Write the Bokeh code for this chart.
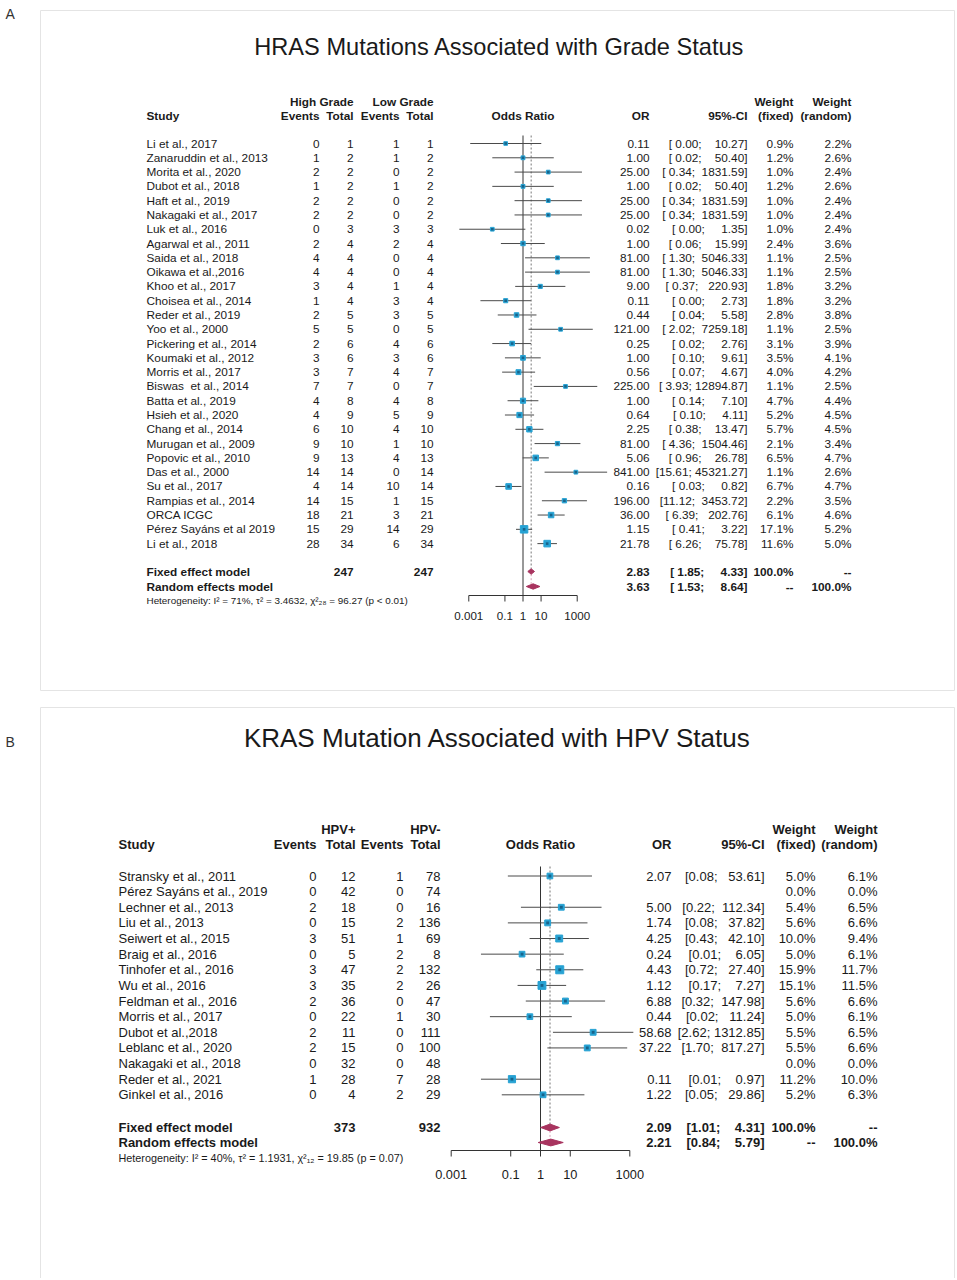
import math
from bokeh.plotting import figure
from bokeh.models import Range1d, LogScale
from bokeh.core.properties import value
from bokeh.embed import file_html
from bokeh.resources import INLINE

# ---------------- DATA: panel A (HRAS / grade) ----------------
a_title = "HRAS Mutations Associated with Grade Status"
a_group1 = "High Grade"
a_group2 = "Low Grade"
a_study = ["Li et al., 2017", "Zanaruddin et al., 2013", "Morita et al., 2020", "Dubot et al., 2018",
           "Haft et al., 2019", "Nakagaki et al., 2017", "Luk et al., 2016", "Agarwal et al., 2011",
           "Saida et al., 2018", "Oikawa et al.,2016", "Khoo et al., 2017", "Choisea et al., 2014",
           "Reder et al., 2019", "Yoo et al., 2000", "Pickering et al., 2014", "Koumaki et al., 2012",
           "Morris et al., 2017", "Biswas\u00a0 et al., 2014", "Batta et al., 2019", "Hsieh et al., 2020",
           "Chang et al., 2014", "Murugan et al., 2009", "Popovic et al., 2010", "Das et al., 2000",
           "Su et al., 2017", "Rampias et al., 2014", "ORCA ICGC", "P\u00e9rez Say\u00e1ns et al 2019",
           "Li et al., 2018"]
a_ev1 = [0, 1, 2, 1, 2, 2, 0, 2, 4, 4, 3, 1, 2, 5, 2, 3, 3, 7, 4, 4, 6, 9, 9, 14, 4, 14, 18, 15, 28]
a_n1 = [1, 2, 2, 2, 2, 2, 3, 4, 4, 4, 4, 4, 5, 5, 6, 6, 7, 7, 8, 9, 10, 10, 13, 14, 14, 15, 21, 29, 34]
a_ev2 = [1, 1, 0, 1, 0, 0, 3, 2, 0, 0, 1, 3, 3, 0, 4, 3, 4, 0, 4, 5, 4, 1, 4, 0, 10, 1, 3, 14, 6]
a_n2 = [1, 2, 2, 2, 2, 2, 3, 4, 4, 4, 4, 4, 5, 5, 6, 6, 7, 7, 8, 9, 10, 10, 13, 14, 14, 15, 21, 29, 34]
a_or = [0.11, 1.00, 25.00, 1.00, 25.00, 25.00, 0.02, 1.00, 81.00, 81.00, 9.00, 0.11, 0.44, 121.00,
        0.25, 1.00, 0.56, 225.00, 1.00, 0.64, 2.25, 81.00, 5.06, 841.00, 0.16, 196.00, 36.00, 1.15, 21.78]
a_lo = [0.0012, 0.02, 0.34, 0.02, 0.34, 0.34, 0.0003, 0.06, 1.30, 1.30, 0.37, 0.0044, 0.04, 2.02,
        0.02, 0.10, 0.07, 3.93, 0.14, 0.10, 0.38, 4.36, 0.96, 15.61, 0.03, 11.12, 6.39, 0.41, 6.26]
a_hi = [10.27, 50.40, 1831.59, 50.40, 1831.59, 1831.59, 1.35, 15.99, 5046.33, 5046.33, 220.93, 2.73,
        5.58, 7259.18, 2.76, 9.61, 4.67, 12894.87, 7.10, 4.11, 13.47, 1504.46, 26.78, 45321.27, 0.82,
        3453.72, 202.76, 3.22, 75.78]
a_wf = [0.9, 1.2, 1.0, 1.2, 1.0, 1.0, 1.0, 2.4, 1.1, 1.1, 1.8, 1.8, 2.8, 1.1, 3.1, 3.5, 4.0, 1.1, 4.7,
        5.2, 5.7, 2.1, 6.5, 1.1, 6.7, 2.2, 6.1, 17.1, 11.6]
a_wr = [2.2, 2.6, 2.4, 2.6, 2.4, 2.4, 2.4, 3.6, 2.5, 2.5, 3.2, 3.2, 3.8, 2.5, 3.9, 4.1, 4.2, 2.5, 4.4,
        4.5, 4.5, 3.4, 4.7, 2.6, 4.7, 3.5, 4.6, 5.2, 5.0]
a_tot1, a_tot2 = 247, 247
a_fixed = (2.83, 1.85, 4.33)
a_random = (3.63, 1.53, 8.64)
a_het = "Heterogeneity: I\u00b2 = 71%, \u03c4\u00b2 = 3.4632, \u03c7\u00b2\u2082\u2088 = 96.27 (p < 0.01)"

# ---------------- DATA: panel B (KRAS / HPV) ----------------
b_title = "KRAS Mutation Associated with HPV Status"
b_group1 = "HPV+"
b_group2 = "HPV-"
b_study = ["Stransky et al., 2011", "P\u00e9rez Say\u00e1ns et al., 2019", "Lechner et al., 2013",
           "Liu et al., 2013", "Seiwert et al., 2015", "Braig et al., 2016", "Tinhofer et al., 2016",
           "Wu et al., 2016", "Feldman et al., 2016", "Morris et al., 2017", "Dubot et al.,2018",
           "Leblanc et al., 2020", "Nakagaki et al., 2018", "Reder et al., 2021", "Ginkel et al., 2016"]
b_ev1 = [0, 0, 2, 0, 3, 0, 3, 3, 2, 0, 2, 2, 0, 1, 0]
b_n1 = [12, 42, 18, 15, 51, 5, 47, 35, 36, 22, 11, 15, 32, 28, 4]
b_ev2 = [1, 0, 0, 2, 1, 2, 2, 2, 0, 1, 0, 0, 0, 7, 2]
b_n2 = [78, 74, 16, 136, 69, 8, 132, 26, 47, 30, 111, 100, 48, 28, 29]
b_or = [2.07, None, 5.00, 1.74, 4.25, 0.24, 4.43, 1.12, 6.88, 0.44, 58.68, 37.22, None, 0.11, 1.22]
b_lo = [0.08, None, 0.22, 0.08, 0.43, 0.01, 0.72, 0.17, 0.32, 0.02, 2.62, 1.70, None, 0.01, 0.05]
b_hi = [53.61, None, 112.34, 37.82, 42.10, 6.05, 27.40, 7.27, 147.98, 11.24, 1312.85, 817.27, None,
        0.97, 29.86]
b_wf = [5.0, 0.0, 5.4, 5.6, 10.0, 5.0, 15.9, 15.1, 5.6, 5.0, 5.5, 5.5, 0.0, 11.2, 5.2]
b_wr = [6.1, 0.0, 6.5, 6.6, 9.4, 6.1, 11.7, 11.5, 6.6, 6.1, 6.5, 6.6, 0.0, 10.0, 6.3]
b_tot1, b_tot2 = 373, 932
b_fixed = (2.09, 1.01, 4.31)
b_random = (2.21, 0.84, 5.79)
b_het = "Heterogeneity: I\u00b2 = 40%, \u03c4\u00b2 = 1.1931, \u03c7\u00b2\u2081\u2082 = 19.85 (p = 0.07)"

tick_vals = [0.001, 0.1, 1, 10, 1000]
tick_labels = ["0.001", "0.1", "1", "10", "1000"]

# ---------------- STYLE / LAYOUT ----------------
FONT = "Liberation Sans"
TFONT = "Liberation Sans"
TXT = "#1a1a1a"
SQ = "#27a2d3"
SQ_IN = "#17648c"
DIA = "#a8345f"
LINE = "#4a4a4a"
NB = "\u00a0"
W, H = 955, 1278
X0, Y0 = 0, 0

p = figure(width=W, height=H, x_range=Range1d(X0, X0 + W), y_range=Range1d(Y0 + H, Y0),
           x_axis_type=None, y_axis_type=None, output_backend="svg", toolbar_location=None,
           min_border=0, outline_line_color=None)
p.background_fill_color = "white"
p.border_fill_color = "white"


def txt(xs, ys, texts, align="left", size="12px", style="normal", xr=None, font=FONT, color=TXT):
    kw = dict(x=list(xs), y=list(ys), text=list(texts), text_align=align, text_baseline="middle",
              text_font=value(font), text_font_size=size, text_font_style=style, text_color=color)
    if xr:
        kw["x_range_name"] = xr
    p.text(**kw)


def ci_str(lo, hi, lw, uw):
    return "[" + f"{lo:.2f}".rjust(lw, NB) + ";" + NB + f"{hi:.2f}".rjust(uw, NB) + "]"


def panel(cfg, study, ev1, n1, ev2, n2, orv, lo, hi, wf, wr, tot1, tot2, fixed, rnd, het, g1, g2, title):
    c = cfg
    fs = c["fs"]
    n = len(study)
    ys = [c["row0"] + i * c["dy"] for i in range(n)]
    # panel frame + titles
    p.quad(left=[c["box"][0]], right=[c["box"][1]], top=[c["box"][2]], bottom=[c["box"][3]],
           fill_color="white", line_color="#e4e4e4", line_width=1)
    txt([c["lab"][0]], [c["lab"][1]], [c["letter"]], size="14px", font=TFONT, color="#333333")
    txt([c["title"][0]], [c["title"][1]], [title], align="center", size=c["tfs"], font=TFONT)
    # forest range
    name = c["name"]
    cen, ppd = c["center"], c["ppd"]
    p.extra_x_ranges[name] = Range1d(10 ** ((X0 - cen) / ppd), 10 ** ((X0 + W - cen) / ppd))
    p.extra_x_scales[name] = LogScale()
    # headers
    h1, h2 = c["h1"], c["h2"]
    txt([c["xn1"], c["xn2"], c["xwf"], c["xwr"]], [h1] * 4, [g1, g2, "Weight", "Weight"],
        align="right", size=fs, style="bold")
    txt([c["xs"]], [h2], ["Study"], size=fs, style="bold")
    txt([c["xe1"], c["xn1"], c["xe2"], c["xn2"], c["xor"], c["xci"], c["xwf"], c["xwr"]], [h2] * 8,
        ["Events", "Total", "Events", "Total", "OR", "95%-CI", "(fixed)", "(random)"],
        align="right", size=fs, style="bold")
    txt([1], [h2], ["Odds Ratio"], align="center", size=fs, style="bold", xr=name)
    # study rows
    txt([c["xs"]] * n, ys, study, size=fs)
    txt([c["xe1"]] * n, ys, [str(v) for v in ev1], align="right", size=fs)
    txt([c["xn1"]] * n, ys, [str(v) for v in n1], align="right", size=fs)
    txt([c["xe2"]] * n, ys, [str(v) for v in ev2], align="right", size=fs)
    txt([c["xn2"]] * n, ys, [str(v) for v in n2], align="right", size=fs)
    txt([c["xor"]] * n, ys, ["" if v is None else f"{v:.2f}" for v in orv], align="right", size=fs)
    txt([c["xci"]] * n, ys, ["" if a is None else ci_str(a, b, c["lw"], c["uw"]) for a, b in zip(lo, hi)],
        align="right", size=fs)
    txt([c["xwf"]] * n, ys, [f"{v:.1f}%" for v in wf], align="right", size=fs)
    txt([c["xwr"]] * n, ys, [f"{v:.1f}%" for v in wr], align="right", size=fs)
    # summary rows
    yf, yr = c["yfix"], c["yran"]
    txt([c["xs"], c["xs"]], [yf, yr], ["Fixed effect model", "Random effects model"], size=fs, style="bold")
    txt([c["xn1"], c["xn2"]], [yf, yf], [str(tot1), str(tot2)], align="right", size=fs, style="bold")
    txt([c["xor"], c["xor"]], [yf, yr], [f"{fixed[0]:.2f}", f"{rnd[0]:.2f}"], align="right", size=fs, style="bold")
    txt([c["xci"], c["xci"]], [yf, yr],
        [ci_str(fixed[1], fixed[2], c["lw"], c["uw"]), ci_str(rnd[1], rnd[2], c["lw"], c["uw"])],
        align="right", size=fs, style="bold")
    txt([c["xwf"], c["xwf"]], [yf, yr], ["100.0%", "--"], align="right", size=fs, style="bold")
    txt([c["xwr"], c["xwr"]], [yf, yr], ["--", "100.0%"], align="right", size=fs, style="bold")
    txt([c["xs"]], [c["yhet"]], [het], size=c["hfs"])
    # reference lines
    p.segment(x0=[1], x1=[1], y0=[c["vtop"]], y1=[c["yaxis"]], line_color="#333333", line_width=1,
              x_range_name=name)
    p.segment(x0=[fixed[0]], x1=[fixed[0]], y0=[c["vtop"]], y1=[yf - c["dh"]], line_color="#777777",
              line_width=1, line_dash="2 2", x_range_name=name)
    p.segment(x0=[fixed[0]], x1=[fixed[0]], y0=[yf + c["dh"]], y1=[yr - c["dh"]], line_color="#d9a0b5",
              line_width=1, line_dash="2 2", x_range_name=name)
    # CIs and squares
    idx = [i for i in range(n) if orv[i] is not None]
    p.segment(x0=[lo[i] for i in idx], x1=[hi[i] for i in idx], y0=[ys[i] for i in idx],
              y1=[ys[i] for i in idx], line_color=LINE, line_width=1, x_range_name=name)
    p.scatter(x=[orv[i] for i in idx], y=[ys[i] for i in idx], marker="square",
              size=[(2.5 + 1.2 * math.sqrt(wf[i])) * c["sq"] for i in idx],
              fill_color=SQ, line_color=SQ, x_range_name=name)
    p.scatter(x=[orv[i] for i in idx], y=[ys[i] for i in idx], marker="square", size=2.6 * c["sq"],
              fill_color=SQ_IN, line_color=None, x_range_name=name)
    # diamonds
    dh = c["dh"]
    p.patches(xs=[[fixed[1], fixed[0], fixed[2], fixed[0]], [rnd[1], rnd[0], rnd[2], rnd[0]]],
              ys=[[yf, yf - dh, yf, yf + dh], [yr, yr - dh, yr, yr + dh]],
              fill_color=DIA, line_color=DIA, x_range_name=name)
    # axis
    ya = c["yaxis"]
    p.segment(x0=[tick_vals[0]], x1=[tick_vals[-1]], y0=[ya], y1=[ya], line_color="#333333",
              line_width=1, x_range_name=name)
    p.segment(x0=tick_vals, x1=tick_vals, y0=[ya] * len(tick_vals), y1=[ya + c["tl"]] * len(tick_vals),
              line_color="#333333", line_width=1, x_range_name=name)
    txt(tick_vals, [c["ytl"]] * len(tick_vals), tick_labels, align="center", size=c["afs"], xr=name)


cfgA = dict(name="fa", letter="A", lab=(5, 13), title=(499, 46), tfs="23.6px", box=(40, 954, 10, 690),
            fs="11.8px", hfs="9.9px", afs="11.6px", row0=143, dy=14.29, h1=101, h2=115,
            xs=146, xe1=319, xn1=353, xe2=399, xn2=433, xor=649, xci=747, xwf=793, xwr=851,
            lw=5, uw=8, yfix=571, yran=586, yhet=600, yaxis=595, ytl=615, tl=6, vtop=135,
            center=522.5, ppd=18.07, sq=1.0, dh=2.7)
cfgB = dict(name="fb", letter="B", lab=(5, 741), title=(497, 737), tfs="26px", box=(40, 954, 707, 1290),
            fs="13px", hfs="10.8px", afs="12.8px", row0=875.5, dy=15.63, h1=829, h2=844,
            xs=118, xe1=316, xn1=355, xe2=403, xn2=440, xor=671, xci=764, xwf=815, xwr=877,
            lw=4, uw=7, yfix=1127, yran=1142, yhet=1157, yaxis=1150, ytl=1174, tl=6, vtop=866,
            center=540, ppd=29.77, sq=1.1, dh=3.4)

panel(cfgA, a_study, a_ev1, a_n1, a_ev2, a_n2, a_or, a_lo, a_hi, a_wf, a_wr, a_tot1, a_tot2,
      a_fixed, a_random, a_het, a_group1, a_group2, a_title)
panel(cfgB, b_study, b_ev1, b_n1, b_ev2, b_n2, b_or, b_lo, b_hi, b_wf, b_wr, b_tot1, b_tot2,
      b_fixed, b_random, b_het, b_group1, b_group2, b_title)

with open("out.html", "w", encoding="utf-8") as f:
    f.write(file_html(p, INLINE))
